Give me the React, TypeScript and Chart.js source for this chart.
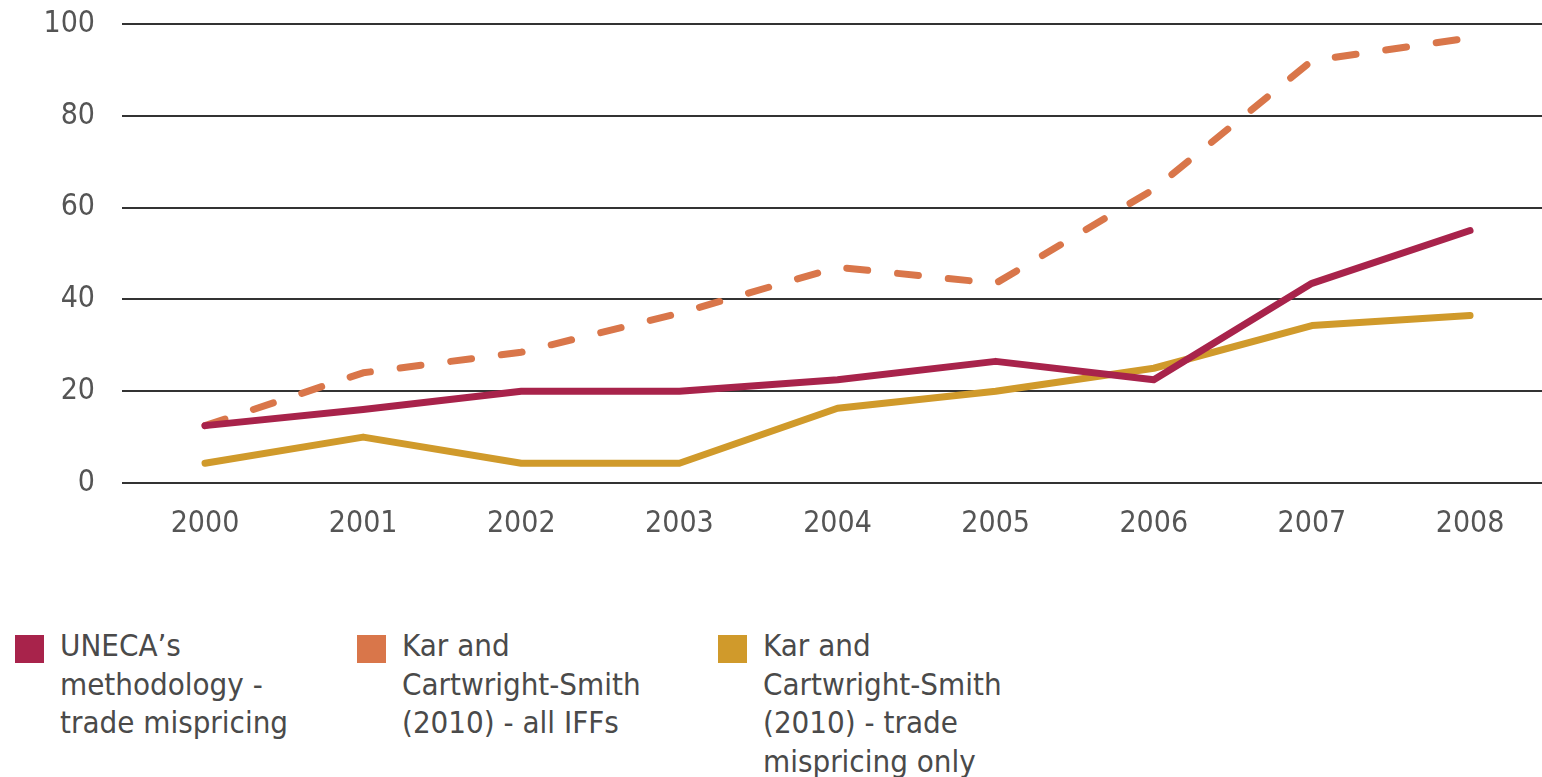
import React, { useEffect, useRef } from "react";
import { Chart, registerables } from "chart.js";

Chart.register(...registerables);

const years = [2000, 2001, 2002, 2003, 2004, 2005, 2006, 2007, 2008];
const unecaValues = [12.5, 16, 20, 20, 22.5, 26.5, 22.5, 43.5, 55];
const karAllValues = [12.5, 24, 28.5, 37, 47, 43.5, 64, 92, 97];
const karTradeValues = [4.3, 10, 4.3, 4.3, 16.3, 20, 25, 34.3, 36.5];
const yTicks = [0, 20, 40, 60, 80, 100];

const seriesNames = [
  "UNECA's methodology - trade mispricing",
  "Kar and Cartwright-Smith (2010) - all IFFs",
  "Kar and Cartwright-Smith (2010) - trade mispricing only",
];
const legendLines = [
  ["UNECA\u2019s", "methodology -", "trade mispricing"],
  ["Kar and", "Cartwright-Smith", "(2010) - all IFFs"],
  ["Kar and", "Cartwright-Smith", "(2010) - trade", "mispricing only"],
];
const colors = ["#A8234B", "#D9764A", "#D09A2B"];
const legendLeft = [15, 357, 718];

const tickFont = '"DejaVu Sans Condensed", sans-serif';
const legendFont = '"DejaVu Sans Condensed", sans-serif';

const toPoints = (vals: number[]) => vals.map((v, i) => ({ x: years[i], y: v }));

export default function App() {
  const canvasRef = useRef<HTMLCanvasElement | null>(null);

  useEffect(() => {
    const canvas = canvasRef.current;
    if (!canvas) return;
    const common = {
      borderWidth: 7,
      pointRadius: 0,
      tension: 0,
      borderCapStyle: "round" as const,
      borderJoinStyle: "round" as const,
    };
    const chart = new Chart(canvas, {
      type: "line",
      data: {
        datasets: [
          {
            ...common,
            label: seriesNames[0],
            data: toPoints(unecaValues),
            borderColor: colors[0],
            backgroundColor: colors[0],
            order: 0,
          },
          {
            ...common,
            label: seriesNames[1],
            data: toPoints(karAllValues),
            borderColor: colors[1],
            backgroundColor: colors[1],
            borderDash: [21, 30],
            order: 2,
          },
          {
            ...common,
            label: seriesNames[2],
            data: toPoints(karTradeValues),
            borderColor: colors[2],
            backgroundColor: colors[2],
            order: 1,
          },
        ],
      },
      options: {
        animation: false,
        responsive: false,
        maintainAspectRatio: false,
        layout: { padding: { top: 24, right: 0, bottom: 0, left: 0 } },
        plugins: {
          legend: { display: false },
          tooltip: { enabled: false },
        },
        scales: {
          x: {
            type: "linear",
            min: 1999.475,
            max: 2008.455,
            grid: { display: false },
            border: { display: false },
            afterBuildTicks: (scale: any) => {
              scale.ticks = years.map((v) => ({ value: v }));
            },
            afterFit: (scale: any) => {
              scale.height = 80;
              scale.paddingLeft = 0;
              scale.paddingRight = 0;
            },
            ticks: {
              autoSkip: false,
              maxRotation: 0,
              padding: 15,
              color: "#555555",
              font: { family: tickFont, size: 30 },
              callback: (v: any) => String(v),
            },
          },
          y: {
            min: 0,
            max: 100,
            afterBuildTicks: (scale: any) => {
              scale.ticks = yTicks.map((v) => ({ value: v }));
            },
            afterFit: (scale: any) => {
              scale.width = 122;
              scale.paddingTop = 0;
              scale.paddingBottom = 0;
            },
            grid: {
              color: "#333333",
              lineWidth: 2,
              drawTicks: false,
            },
            border: { display: false },
            ticks: {
              padding: 27,
              color: "#555555",
              font: { family: tickFont, size: 30 },
              callback: (v: any) => String(v),
            },
          },
        },
      },
    });
    return () => chart.destroy();
  }, []);

  return (
    <div
      style={{
        position: "absolute",
        left: 0,
        top: 0,
        width: 1542,
        height: 777,
        background: "#ffffff",
        overflow: "hidden",
      }}
    >
      <canvas
        ref={canvasRef}
        width={1542}
        height={563}
        style={{ position: "absolute", left: 0, top: 0, width: 1542, height: 563 }}
      />
      {legendLines.map((lines, i) => (
        <div key={i} style={{ position: "absolute", left: legendLeft[i], top: 626 }}>
          <div
            style={{
              position: "absolute",
              left: 0,
              top: 9,
              width: 29,
              height: 28,
              background: colors[i],
            }}
          />
          <div
            style={{
              position: "absolute",
              left: 45,
              top: 0,
              whiteSpace: "nowrap",
              fontFamily: legendFont,
              fontSize: 31,
              lineHeight: "38.5px",
              color: "#4a4a4a",
            }}
          >
            {lines.map((l, j) => (
              <div key={j}>{l}</div>
            ))}
          </div>
        </div>
      ))}
    </div>
  );
}
